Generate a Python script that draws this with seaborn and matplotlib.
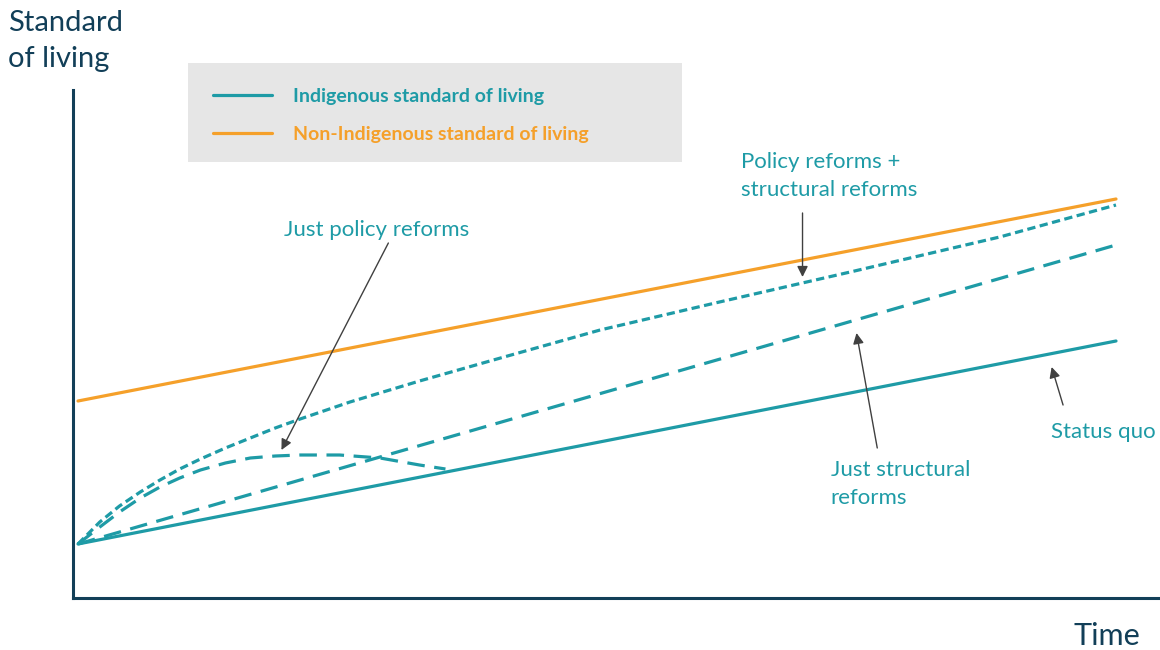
import matplotlib
matplotlib.use("Agg")
import matplotlib.pyplot as plt
from matplotlib.patches import Rectangle
import seaborn as sns

# series (time index 0..10, arbitrary standard-of-living units)
non_indig_x = [0, 10]
non_indig_y = [19.7, 39.9]

status_quo_x = [0, 10]
status_quo_y = [5.4, 25.7]

structural_x = [0, 10]
structural_y = [5.4, 35.3]

both_x = [0, 0.21, 0.40, 0.60, 0.79, 0.98, 1.18, 1.42, 1.66, 1.90, 2.14, 2.62, 3.29, 4.07, 5.03, 6.18, 7.44, 8.88, 10]
both_y = [5.4, 7.6, 9.2, 10.6, 11.8, 12.9, 13.9, 15.0, 16.0, 17.0, 17.9, 19.6, 21.7, 24.0, 26.8, 29.6, 32.6, 36.1, 39.3]

policy_x = [0, 0.21, 0.40, 0.60, 0.79, 0.98, 1.18, 1.42, 1.66, 1.90, 2.14, 2.52, 2.91, 3.29, 3.54]
policy_y = [5.4, 7.1, 8.6, 10.0, 11.1, 12.0, 12.8, 13.5, 14.0, 14.2, 14.3, 14.3, 14.0, 13.3, 12.9]

legend_labels = ["Indigenous standard of living", "Non-Indigenous standard of living"]

# annotations: text, text position, arrow start, arrow tip
notes = [
    ("Just policy reforms", (2.88, 36.8), (2.99, 35.5), (1.96, 14.8)),
    ("Policy reforms +\nstructural reforms", (6.39, 42.15), (6.98, 38.5), (6.98, 32.1)),
    ("Just structural\nreforms", (7.25, 11.35), (7.70, 15.0), (7.50, 26.5)),
    ("Status quo", (9.37, 16.6), (9.49, 19.3), (9.38, 23.1)),
]

teal = "#1E9BA6"
orange = "#F5A02A"
dark = "#123F58"
arrow_col = "#404040"

sns.set_style("white")
plt.rcParams["font.family"] = ["Lato", "DejaVu Sans"]

fig = plt.figure(figsize=(11.6, 6.5), dpi=100)
ax = fig.add_axes([73 / 1160, 52 / 650, 1087 / 1160, 508 / 650])
ax.patch.set_alpha(0)

# grey legend box behind the axes
fig.patches.append(Rectangle((188 / 1160, 1 - 162 / 650), 494 / 1160, 99 / 650,
                             transform=fig.transFigure, facecolor="#E6E6E6",
                             edgecolor="none", zorder=-5))

lw = 2.3
sns.lineplot(x=status_quo_x, y=status_quo_y, ax=ax, color=teal, lw=lw, label=legend_labels[0])
sns.lineplot(x=non_indig_x, y=non_indig_y, ax=ax, color=orange, lw=lw, label=legend_labels[1])
sns.lineplot(x=structural_x, y=structural_y, ax=ax, color=teal, lw=lw)
ax.lines[-1].set_dashes([5.5, 3.0])
sns.lineplot(x=both_x, y=both_y, ax=ax, color=teal, lw=lw, sort=False)
ax.lines[-1].set_dashes([2.6, 1.4])
sns.lineplot(x=policy_x, y=policy_y, ax=ax, color=teal, lw=lw, sort=False)
ax.lines[-1].set_dashes([5.5, 3.0])

for txt, tpos, a0, a1 in notes:
    ha = "center" if txt.startswith("Just policy") else "left"
    ax.text(tpos[0], tpos[1], txt, color=teal, fontsize=16, ha=ha, va="center",
            linespacing=1.5)
    ax.annotate("", xy=a1, xytext=a0,
                arrowprops=dict(arrowstyle="-|>", color=arrow_col, lw=1,
                                mutation_scale=16, shrinkA=0, shrinkB=0))

ax.set_xlim((73 - 78) / 103.8, (1160 - 78) / 103.8)
ax.set_ylim(0, 50.8)
ax.set_xticks([])
ax.set_yticks([])
for s in ["top", "right"]:
    ax.spines[s].set_visible(False)
for s in ["left", "bottom"]:
    ax.spines[s].set_color(dark)
    ax.spines[s].set_linewidth(2.2)

leg = ax.legend(loc="upper left", bbox_to_anchor=(213 / 1160, 1 - 88 / 650),
                bbox_transform=fig.transFigure, frameon=False,
                prop={"weight": "bold", "size": 14}, labelcolor="linecolor",
                handlelength=3.05, handletextpad=1.08, labelspacing=1.08,
                borderpad=0, borderaxespad=0)

fig.text(8 / 1160, 1 - 41 / 650, "Standard\nof living", color=dark, fontsize=21,
         ha="left", va="center", linespacing=1.5)
fig.text(1140 / 1160, 1 - 636 / 650, "Time", color=dark, fontsize=22,
         ha="right", va="center")

fig.savefig("out.png", dpi=100)
